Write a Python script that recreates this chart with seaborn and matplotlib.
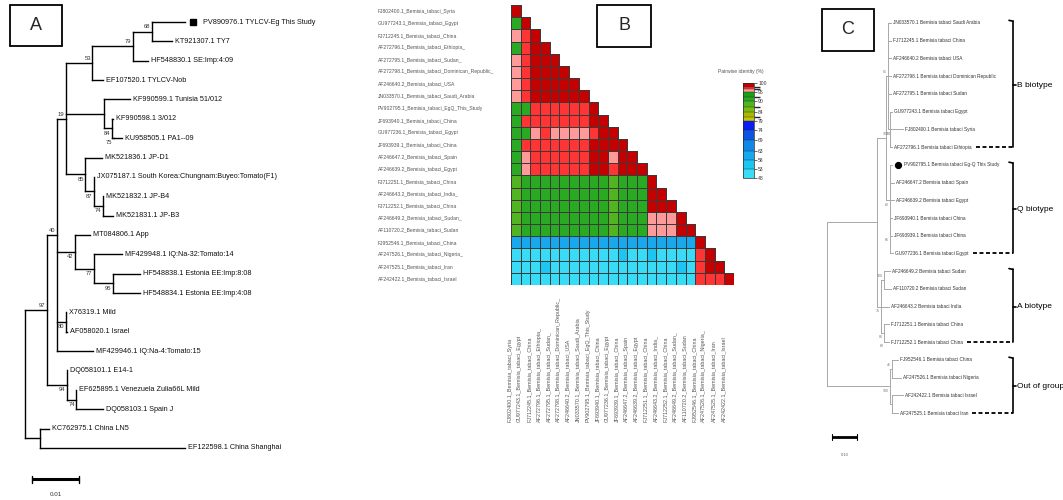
import numpy as np
import pandas as pd
import matplotlib
matplotlib.use("Agg")
import matplotlib.pyplot as plt
import seaborn as sns
from matplotlib.collections import LineCollection
from matplotlib.colors import ListedColormap, BoundaryNorm, to_rgba
from matplotlib.cm import ScalarMappable
from matplotlib.patches import Rectangle
from matplotlib.transforms import offset_copy

sns.set_theme(style="white")
NARROW = ["Liberation Sans Narrow", "Liberation Sans", "DejaVu Sans"]
plt.rcParams["font.family"] = NARROW

W, H = 1063, 500

# ---------------- panel A : TYLCV tree (name, parent, distance from root, bootstrap)
tree_a = [
    ("root", None, 0.0, ""),
    ("n97", "root", 0.0047, "97"),
    ("n40", "n97", 0.0068, "40"),
    ("n19", "n40", 0.0087, "19"),
    ("n53", "n19", 0.0143, "53"),
    ("n79", "n53", 0.0230, "79"),
    ("n68", "n79", 0.0270, "68"),
    ("PV890976.1 TYLCV-Eg This Study", "n68", 0.0340, ""),
    ("KT921307.1 TY7", "n68", 0.0313, ""),
    ("HF548830.1 SE:Imp:4:09", "n79", 0.0262, ""),
    ("EF107520.1 TYLCV-Nob", "n53", 0.0166, ""),
    ("nT", "n19", 0.0168, ""),
    ("KF990599.1 Tunisia 51/012", "nT", 0.0223, ""),
    ("n84", "nT", 0.0185, "84"),
    ("KF990598.1 3/012", "n84", 0.0187, ""),
    ("n75", "n84", 0.0189, "75"),
    ("KU958505.1 PA1--09", "n75", 0.0206, ""),
    ("n85", "n19", 0.0128, "85"),
    ("MK521836.1 JP-D1", "n85", 0.0164, ""),
    ("n87", "n85", 0.0147, "87"),
    ("JX075187.1 South Korea:Chungnam:Buyeo:Tomato(F1)", "n87", 0.0147, ""),
    ("n74", "n87", 0.0166, "74"),
    ("MK521832.1 JP-B4", "n74", 0.0166, ""),
    ("MK521831.1 JP-B3", "n74", 0.0187, ""),
    ("n42", "n40", 0.0106, "42"),
    ("MT084806.1 App", "n42", 0.0138, ""),
    ("n77", "n42", 0.0147, "77"),
    ("MF429948.1 IQ:Na-32:Tomato:14", "n77", 0.0206, ""),
    ("n95", "n77", 0.0187, "95"),
    ("HF548838.1 Estonia EE:Imp:8:08", "n95", 0.0245, ""),
    ("HF548834.1 Estonia EE:Imp:4:08", "n95", 0.0245, ""),
    ("n80", "n40", 0.0087, "80"),
    ("X76319.1 Mild", "n80", 0.0087, ""),
    ("AF058020.1 Israel", "n80", 0.0089, ""),
    ("MF429946.1 IQ:Na-4:Tomato:15", "n40", 0.0145, ""),
    ("n94", "n97", 0.0089, "94"),
    ("DQ058101.1 E14-1", "n94", 0.0089, ""),
    ("n74b", "n94", 0.0109, "74"),
    ("EF625895.1 Venezuela Zulia66L Mild", "n74b", 0.0109, ""),
    ("DQ058103.1 Spain J", "n74b", 0.0166, ""),
    ("nKC", "root", 0.0032, ""),
    ("KC762975.1 China LN5", "nKC", 0.0051, ""),
    ("EF122598.1 China Shanghai", "nKC", 0.0340, ""),
]
scale_a = 0.01

# ---------------- panel B : pairwise identity (%) lower triangle
seq_names = [
    "FJ802400.1_Bemisia_tabaci_Syria",
    "GU977243.1_Bemisia_tabaci_Egypt",
    "FJ712245.1_Bemisia_tabaci_China",
    "AF272796.1_Bemisia_tabaci_Ethiopia_",
    "AF272795.1_Bemisia_tabaci_Sudan_",
    "AF272798.1_Bemisia_tabaci_Dominican_Republic_",
    "AF246640.2_Bemisia_tabaci_USA",
    "JN033570.1_Bemisia_tabaci_Saudi_Arabia",
    "PV902795.1_Bemisia_tabaci_EgQ_This_Study",
    "JF693940.1_Bemisia_tabaci_China",
    "GU977236.1_Bemisia_tabaci_Egypt",
    "JF693939.1_Bemisia_tabaci_China",
    "AF246647.2_Bemisia_tabaci_Spain",
    "AF246639.2_Bemisia_tabaci_Egypt",
    "FJ712251.1_Bemisia_tabaci_China",
    "AF246643.2_Bemisia_tabaci_India_",
    "FJ712252.1_Bemisia_tabaci_China",
    "AF246649.2_Bemisia_tabaci_Sudan_",
    "AF110720.2_Bemisia_tabaci_Sudan",
    "FJ952546.1_Bemisia_tabaci_China",
    "AF247526.1_Bemisia_tabaci_Nigeria_",
    "AF247525.1_Bemisia_tabaci_Iran",
    "AF242422.1_Bemisia_tabaci_Israel",
]
identity = [
    [99.0],
    [92.0, 99.0],
    [95.8, 97.2, 99.0],
    [92.0, 97.2, 99.0, 99.0],
    [95.8, 97.2, 99.0, 99.0, 99.0],
    [95.8, 97.2, 99.0, 98.6, 99.0, 99.0],
    [95.8, 97.2, 99.0, 98.6, 99.0, 99.0, 99.0],
    [95.8, 97.2, 98.6, 99.0, 99.0, 99.0, 99.0, 99.0],
    [92.0, 92.0, 97.2, 97.2, 97.2, 97.2, 97.2, 97.2, 99.0],
    [92.0, 97.0, 97.2, 97.2, 97.2, 97.2, 97.2, 97.2, 99.0, 99.0],
    [92.0, 92.0, 95.8, 97.2, 95.8, 95.8, 95.8, 95.8, 97.2, 99.0, 99.0],
    [92.0, 97.2, 97.2, 97.2, 97.2, 97.2, 97.2, 97.2, 99.0, 99.0, 99.0, 99.0],
    [92.0, 95.8, 97.2, 97.2, 97.2, 97.2, 97.2, 97.2, 98.2, 98.2, 95.8, 99.0, 99.0],
    [92.0, 95.8, 97.2, 97.2, 97.2, 97.2, 97.2, 97.2, 98.2, 98.2, 97.2, 99.0, 99.0, 99.0],
    [88.5, 91.5, 91.5, 91.5, 91.5, 91.5, 91.5, 91.5, 91.5, 91.5, 88.5, 91.5, 91.5, 91.5, 99.0],
    [88.5, 91.5, 91.5, 91.5, 91.5, 91.5, 91.5, 91.5, 91.5, 91.5, 88.5, 91.5, 91.5, 91.5, 99.0, 99.0],
    [88.5, 91.5, 91.5, 91.5, 91.5, 91.5, 91.5, 91.5, 91.5, 91.5, 88.5, 91.5, 91.5, 91.5, 99.0, 99.0, 99.0],
    [88.5, 91.5, 91.5, 91.5, 91.5, 91.5, 91.5, 91.5, 91.5, 91.5, 88.5, 91.5, 91.5, 91.5, 95.8, 95.8, 95.8, 99.0],
    [88.5, 91.5, 91.5, 91.5, 91.5, 91.5, 91.5, 91.5, 91.5, 91.5, 88.5, 91.5, 91.5, 91.5, 95.8, 95.8, 95.8, 99.0, 99.0],
    [60.0, 60.0, 60.0, 60.0, 60.0, 60.0, 60.0, 60.0, 60.0, 60.0, 60.0, 60.0, 61.0, 61.0, 60.0, 60.0, 61.0, 61.0, 61.0, 99.0],
    [51.0, 51.0, 51.0, 51.0, 51.0, 51.0, 51.0, 51.0, 51.0, 51.0, 51.0, 55.5, 51.0, 51.0, 55.5, 51.0, 51.0, 51.0, 51.0, 97.2, 99.0],
    [51.0, 51.0, 51.0, 55.5, 51.0, 51.0, 51.0, 51.0, 51.0, 51.0, 51.0, 51.0, 51.0, 51.0, 51.0, 51.0, 51.0, 55.5, 51.0, 97.2, 99.0, 99.0],
    [51.0, 51.0, 51.0, 51.0, 51.0, 51.0, 51.0, 51.0, 51.0, 51.0, 51.0, 51.0, 51.0, 51.0, 51.0, 51.0, 51.0, 51.0, 51.0, 97.2, 97.2, 97.2, 99.0],
]
cb_bounds = [48, 53, 58, 63, 69, 74, 79, 81.5, 84, 87, 90, 92.5, 95, 96.5, 98, 100]
cb_colors = ["#38dcf6", "#1cc6f2", "#18a8ee", "#1288e6", "#0b55e2", "#0a1ef2",
             "#c6c400", "#a6bc00", "#7cbc10", "#52b420", "#2aaa22", "#18a018",
             "#ff9a9a", "#ff3535", "#c40000"]
cb_ticks = [100, 95, 90, 84, 79, 74, 69, 63, 58, 53, 48]

# ---------------- panel C : mtCOI tree
tree_c = [
    ("root", None, 0.0, ""),
    ("nIn", "root", 0.200, ""),
    ("nBQ", "nIn", 0.236, ""),
    ("nB", "nBQ", 0.244, "81"),
    ("JN033570.1 Bemisia tabaci Saudi Arabia", "nB", 0.256, ""),
    ("FJ712245.1 Bemisia tabaci China", "nB", 0.256, ""),
    ("AF246640.2 Bemisia tabaci USA", "nB", 0.256, ""),
    ("AF272798.1 Bemisia tabaci Dominican Republic", "nB", 0.256, ""),
    ("AF272795.1 Bemisia tabaci Sudan", "nB", 0.256, ""),
    ("nE", "nB", 0.252, "100"),
    ("GU977243.1 Bemisia tabaci Egypt", "nE", 0.260, ""),
    ("nS", "nE", 0.260, "94"),
    ("FJ802400.1 Bemisia tabaci Syria", "nS", 0.304, ""),
    ("AF272796.1 Bemisia tabaci Ethiopia", "nE", 0.260, ""),
    ("nQ", "nBQ", 0.252, "62"),
    ("PV902795.1 Bemisia tabaci Eg-Q This Study", "nQ", 0.260, ""),
    ("AF246647.2 Bemisia tabaci Spain", "nQ", 0.268, ""),
    ("AF246639.2 Bemisia tabaci Egypt", "nQ", 0.268, ""),
    ("nQ2", "nQ", 0.252, "65"),
    ("JF693940.1 Bemisia tabaci China", "nQ2", 0.260, ""),
    ("JF693939.1 Bemisia tabaci China", "nQ2", 0.260, ""),
    ("GU977236.1 Bemisia tabaci Egypt", "nQ2", 0.264, ""),
    ("nA", "nIn", 0.216, "75"),
    ("nA1", "nA", 0.228, "100"),
    ("AF246649.2 Bemisia tabaci Sudan", "nA1", 0.252, ""),
    ("AF110720.2 Bemisia tabaci Sudan", "nA1", 0.256, ""),
    ("AF246643.2 Bemisia tabaci India", "nA", 0.248, ""),
    ("nA2", "nA", 0.228, "80"),
    ("FJ712251.1 Bemisia tabaci China", "nA2", 0.248, ""),
    ("nA3", "nA2", 0.232, "68"),
    ("FJ712252.1 Bemisia tabaci China", "nA3", 0.248, ""),
    ("nOut", "root", 0.252, "100"),
    ("nO1", "nOut", 0.260, "46"),
    ("FJ952546.1 Bemisia tabaci China", "nO1", 0.284, ""),
    ("AF247526.1 Bemisia tabaci Nigeria", "nO1", 0.296, ""),
    ("nO2", "nOut", 0.260, ""),
    ("AF242422.1 Bemisia tabaci Israel", "nO2", 0.304, ""),
    ("AF247525.1 Bemisia tabaci Iran", "nO2", 0.284, ""),
]
scale_c = 0.10
groups_c = [("B biotype", 0, 7), ("Q biotype", 8, 13), ("A biotype", 14, 18), ("Out of group", 19, 22)]


def layout(nodes):
    kids = {n[0]: [] for n in nodes}
    for name, par, dep, boot in nodes:
        if par is not None:
            kids[par].append(name)
    tips = [n[0] for n in nodes if not kids[n[0]]]
    ypos = {t: i for i, t in enumerate(tips)}

    def fill(n):
        if n not in ypos:
            ys = [fill(c) for c in kids[n]]
            ypos[n] = (ys[0] + ys[-1]) / 2
        return ypos[n]

    fill(nodes[0][0])
    return kids, ypos


def draw_tree(ax, nodes, color, lw, tip_fs, boot_fs, tip_pad, tip_color, boot_color, mark):
    kids, ypos = layout(nodes)
    depth = {n[0]: n[2] for n in nodes}
    segs = []
    for name, par, dep, boot in nodes:
        if par is not None:
            segs.append([(depth[par], ypos[name]), (dep, ypos[name])])
        if len(kids[name]) > 1:
            segs.append([(dep, ypos[kids[name][0]]), (dep, ypos[kids[name][-1]])])
    ax.add_collection(LineCollection(segs, colors=color, linewidths=lw, capstyle="projecting"))
    labels = {}
    for name, par, dep, boot in nodes:
        if not kids[name]:
            pad = tip_pad
            if "This Study" in name:
                tr = offset_copy(ax.transData, fig=ax.figure, x=mark["off"], y=0, units="points")
                ax.plot(dep, ypos[name], marker=mark["marker"], ms=mark["ms"], color="black",
                        mec="black", transform=tr, linestyle="none")
                pad = mark["label_off"]
            labels[name] = ax.annotate(name, (dep, ypos[name]), xytext=(pad, 0),
                                       textcoords="offset points", ha="left", va="center",
                                       fontsize=tip_fs, color=tip_color)
        elif boot:
            sib = kids[par]
            above = sib[0] == name and len(sib) > 1
            ax.annotate(boot, (dep, ypos[name]), xytext=(-1, 1.6 if above else -1.6),
                        textcoords="offset points", ha="right",
                        va="bottom" if above else "top", fontsize=boot_fs, color=boot_color)
    return ypos, labels


fig = plt.figure(figsize=(W / 100, H / 100), dpi=100)
fig.patch.set_facecolor("white")

# ---- A
axA = fig.add_axes([0, 0, 330 / W, 1])
a_px = 4700.0
axA.set_xlim(-25 / a_px, 305 / a_px)
axA.set_ylim((H - 22) / 19.36, -22 / 19.36)
axA.axis("off")
draw_tree(axA, tree_a, "black", 1.0, 5.2, 4.2, 2.0, "#111111", "#333333",
          dict(marker="s", ms=4.8, off=5.8, label_off=12.8))
sb = axA.get_xaxis_transform()
x0 = 7 / a_px
axA.plot([x0, x0 + scale_a], [0.042, 0.042], color="black", lw=2.2, transform=sb, solid_capstyle="butt")
for xe in (x0, x0 + scale_a):
    axA.plot([xe, xe], [0.035, 0.049], color="black", lw=1.0, transform=sb)
axA.text(x0 + scale_a / 2, 0.01, "0.01", transform=sb, ha="center", va="center", fontsize=4.5, color="#333333")

# ---- B
n = len(seq_names)
mat = np.full((n, n), np.nan)
for i, row in enumerate(identity):
    mat[i, :len(row)] = row
df = pd.DataFrame(mat, index=seq_names, columns=seq_names)
mask = np.triu(np.ones((n, n), dtype=bool), k=1)
cmap = ListedColormap(cb_colors)
norm = BoundaryNorm(cb_bounds, cmap.N)

axB = fig.add_axes([511 / W, 1 - 285 / H, 223 / W, 280 / H])
sns.heatmap(df, mask=mask, cmap=cmap, norm=norm, cbar=False, linewidths=0.45,
            linecolor="#3a3a3a", xticklabels=False, yticklabels=False, ax=axB)
mesh = axB.collections[0]
edge = np.array([(0, 0, 0, 0) if m else to_rgba("#3a3a3a") for m in mask.ravel()])
mesh.set_edgecolors(edge)
axB.set_xlabel("")
axB.set_ylabel("")
ty = axB.get_yaxis_transform()
tx = axB.get_xaxis_transform()
for i, name in enumerate(seq_names):
    axB.text(-0.596, i + 0.5, name, transform=ty, ha="left", va="center", fontsize=3.6, color="#555555")
    axB.text(i + 0.5 - 0.6, -0.489, name, transform=tx, ha="center", va="bottom", rotation=90,
             fontsize=3.9, color="#555555")

cax = fig.add_axes([743 / W, 1 - 178 / H, 11 / W, 95 / H])
cb = fig.colorbar(ScalarMappable(norm=norm, cmap=cmap), cax=cax, ticks=cb_ticks,
                  spacing="proportional", drawedges=True)
cb.ax.tick_params(labelsize=3.6, length=2, width=0.5, pad=1, colors="#333333")
cb.outline.set_linewidth(0.5)
cb.dividers.set_linewidth(0.3)
fig.text(741 / W, 1 - 72 / H, "Pairwise identity (%)", ha="center", va="center", fontsize=3.6, color="#555555")

# ---- C
axC = fig.add_axes([810 / W, 0, 253 / W, 1])
c_px = 250.0
axC.set_xlim(-17 / c_px, 236 / c_px)
axC.set_ylim((H - 23) / 17.73, -23 / 17.73)
axC.axis("off")
yc, labc = draw_tree(axC, tree_c, "#a8a8a8", 0.7, 3.4, 2.6, 1.5, "#333333", "#777777",
                     dict(marker="o", ms=4.2, off=4.3, label_off=8.6))
sc = axC.get_xaxis_transform()
c0 = 5 / c_px
axC.plot([c0, c0 + scale_c], [0.126, 0.126], color="black", lw=2.0, transform=sc, solid_capstyle="butt")
for xe in (c0, c0 + scale_c):
    axC.plot([xe, xe], [0.12, 0.132], color="black", lw=0.8, transform=sc)
axC.text(c0 + scale_c / 2, 0.09, "0.10", transform=sc, ha="center", va="center", fontsize=3, color="#666666")

fig.canvas.draw()
tips_c = [t[0] for t in tree_c if t[0] in labc]
inv = axC.transData.inverted()
bx = (1013 - 827) / c_px
for gname, g0, g1 in groups_c:
    bb = labc[tips_c[g1]].get_window_extent()
    xs = inv.transform((bb.x1 + 4, 0))[0]
    axC.plot([xs, bx], [g1, g1], color="black", lw=1.3, linestyle=(0, (2.2, 1.4)))
    axC.plot([bx, bx], [g0 - 0.1, g1], color="black", lw=1.2)
    axC.plot([bx - 4 / c_px, bx], [g0 - 0.15, g0 - 0.1], color="black", lw=1.2)
    ym = (g0 + g1) / 2
    axC.plot([bx, bx + 3 / c_px], [ym, ym], color="black", lw=1.2)
    axC.text(bx + 4 / c_px, ym, gname, ha="left", va="center", fontsize=6.0, color="black")

# ---- panel letters
for letter, x, y, w, h in [("A", 10, 5, 52, 41), ("B", 597, 5, 54, 42), ("C", 822, 9, 52, 42)]:
    fig.add_artist(Rectangle((x / W, 1 - (y + h) / H), w / W, h / H, transform=fig.transFigure,
                             facecolor="white", edgecolor="black", lw=1.3))
    fig.text((x + w / 2) / W, 1 - (y + h / 2) / H, letter, ha="center", va="center",
             fontsize=13, family=["Liberation Sans", "DejaVu Sans"])

fig.savefig("out.png", dpi=100)
